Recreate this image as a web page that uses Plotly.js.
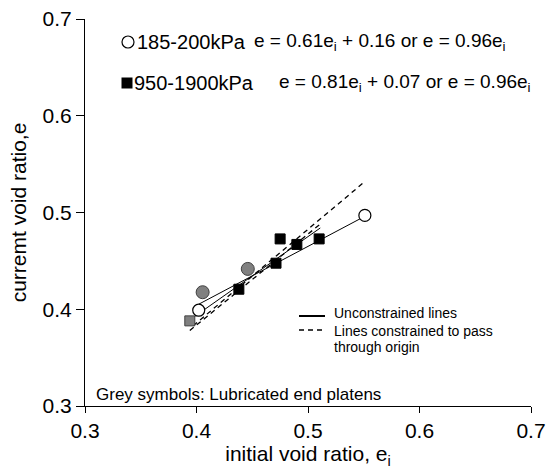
<!DOCTYPE html>
<html>
<head>
<meta charset="utf-8">
<script src="https://cdn.plot.ly/plotly-3.0.1.min.js"></script>
<style>html,body{margin:0;padding:0;background:#fff;}#chart{width:550px;height:475px;}</style>
</head>
<body>
<div id="chart"></div>
<script>
// ---- data ----
const openCircleX = [0.402, 0.551];
const openCircleY = [0.399, 0.497];
const greyCircleX = [0.4055, 0.446];
const greyCircleY = [0.4176, 0.4417];
const blackSquareX = [0.438, 0.4713, 0.475, 0.490, 0.510];
const blackSquareY = [0.4207, 0.4476, 0.4727, 0.467, 0.4727];
const greySquareX = [0.394];
const greySquareY = [0.388];

// fitted lines (end points)
const fitCircleSolidX = [0.402, 0.551];
const fitCircleSolidY = [0.4052, 0.4961];
const fitSquareSolidX = [0.394, 0.511];
const fitSquareSolidY = [0.389, 0.484];
const fitCircleDashX = [0.397, 0.551];
const fitCircleDashY = [0.383, 0.532];
const fitSquareDashX = [0.394, 0.512];
const fitSquareDashY = [0.378, 0.489];

const axisMin = 0.3, axisMax = 0.7, axisStep = 0.1;

const FONT = 'Liberation Sans, Arial, sans-serif';

// plot-area pixel helpers (layout only)
const L = 85, R = 19, T = 19, B = 69, W = 550, H = 475;
const pw = W - L - R, ph = H - T - B;
const px = x => (x - L) / pw;
const py = y => (H - B - y) / ph;

const lineTrace = (x, y, dash) => ({
  x: x, y: y, type: 'scatter', mode: 'lines', showlegend: false, hoverinfo: 'skip',
  line: {color: '#000', width: dash ? 1.3 : 1, dash: dash ? '5px,4px' : 'solid'}
});

const data = [
  lineTrace(fitCircleDashX, fitCircleDashY, true),
  lineTrace(fitSquareDashX, fitSquareDashY, true),
  lineTrace(fitCircleSolidX, fitCircleSolidY, false),
  lineTrace(fitSquareSolidX, fitSquareSolidY, false),
  {x: openCircleX, y: openCircleY, type: 'scatter', mode: 'markers', showlegend: false,
   marker: {symbol: 'circle', size: 12, color: '#fff', line: {color: '#000', width: 1.2}}},
  {x: greyCircleX, y: greyCircleY, type: 'scatter', mode: 'markers', showlegend: false,
   marker: {symbol: 'circle', size: 13, color: '#808080', line: {color: '#404040', width: 1}}},
  {x: blackSquareX, y: blackSquareY, type: 'scatter', mode: 'markers', showlegend: false,
   marker: {symbol: 'square', size: 10, color: '#000', line: {color: '#000', width: 1}}},
  {x: greySquareX, y: greySquareY, type: 'scatter', mode: 'markers', showlegend: false,
   marker: {symbol: 'square', size: 10, color: '#808080', line: {color: '#404040', width: 1}}}
];

const axisCommon = {
  range: [axisMin, axisMax], tick0: axisMin, dtick: axisStep, tickformat: '.1f',
  ticks: 'outside', ticklen: 6, tickwidth: 1, tickcolor: '#000',
  showline: true, linecolor: '#000', linewidth: 1,
  showgrid: false, zeroline: false, automargin: false,
  tickfont: {family: FONT, size: 21, color: '#000'}
};

const ann = (text, x, y, size, anchor) => ({
  text: text, xref: 'paper', yref: 'paper', x: px(x), y: py(y),
  xanchor: anchor || 'left', yanchor: 'middle', showarrow: false,
  font: {family: FONT, size: size, color: '#000'}
});

const layout = {
  width: W, height: H,
  margin: {l: L, r: R, t: T, b: B, pad: 0},
  paper_bgcolor: '#fff', plot_bgcolor: '#fff',
  font: {family: FONT, color: '#000', size: 14},
  showlegend: false,
  xaxis: Object.assign({}, axisCommon, {
    title: {text: 'initial void ratio, e<sub>i</sub>', font: {family: FONT, size: 21, color: '#000'}, standoff: 0}
  }),
  yaxis: Object.assign({}, axisCommon, {
    ticklen: 8,
    title: {text: 'curremt void ratio,e', font: {family: FONT, size: 21, color: '#000'}, standoff: 10}
  }),
  shapes: [
    {type: 'circle', xref: 'paper', yref: 'paper', xsizemode: 'pixel', ysizemode: 'pixel',
     xanchor: px(128), yanchor: py(42), x0: -6, x1: 6, y0: -6, y1: 6,
     line: {color: '#000', width: 1.2}, fillcolor: '#fff'},
    {type: 'rect', xref: 'paper', yref: 'paper', xsizemode: 'pixel', ysizemode: 'pixel',
     xanchor: px(127), yanchor: py(83), x0: -5.5, x1: 5.5, y0: -5.5, y1: 5.5,
     line: {color: '#000', width: 0}, fillcolor: '#000'},
    {type: 'line', xref: 'paper', yref: 'paper', x0: px(299), x1: px(325), y0: py(316), y1: py(316),
     line: {color: '#000', width: 2}},
    {type: 'line', xref: 'paper', yref: 'paper', x0: px(299), x1: px(325), y0: py(330), y1: py(330),
     line: {color: '#000', width: 1.5, dash: '5px,4px'}}
  ],
  annotations: [
    ann('185-200kPa', 135, 42, 20),
    ann('e = 0.61e<sub>i</sub> + 0.16 or e = 0.96e<sub>i</sub>', 252, 42, 19),
    ann('950-1900kPa', 132, 83, 20),
    ann('e = 0.81e<sub>i</sub> + 0.07 or e = 0.96e<sub>i</sub>', 277, 83, 19),
    ann('Unconstrained lines', 332, 312.5, 14),
    ann('Lines constrained to pass', 332, 331, 14),
    ann('through origin', 332, 347, 14),
    ann('Grey symbols: Lubricated end platens', 94, 394, 17)
  ]
};

Plotly.newPlot('chart', data, layout, {displayModeBar: false});
</script>
</body>
</html>
